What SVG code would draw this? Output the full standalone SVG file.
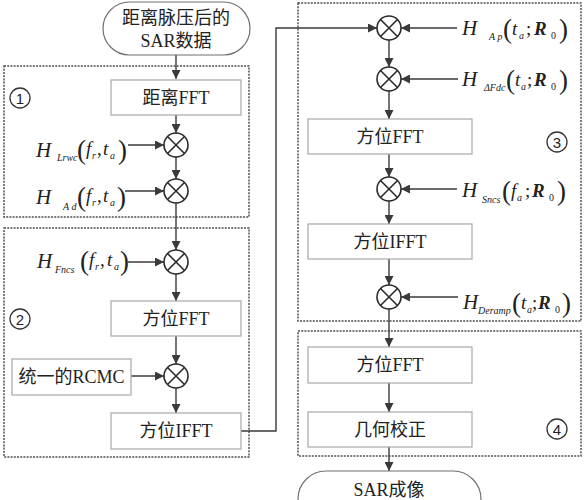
<svg xmlns="http://www.w3.org/2000/svg" width="585" height="500" viewBox="0 0 585 500">
<defs>
<marker id="ah" viewBox="0 0 10 10" refX="10" refY="5" markerWidth="9" markerHeight="9" markerUnits="userSpaceOnUse" orient="auto">
<path d="M0,0 L10,5 L0,10 z" fill="#3a3a3a"/>
</marker>
<g id="mul">
<circle cx="0" cy="0" r="12" fill="#fff" stroke="#2a2a2a" stroke-width="1.6"/>
<path d="M-8.5,-8.5 L8.5,8.5 M-8.5,8.5 L8.5,-8.5" stroke="#2a2a2a" stroke-width="1.6"/>
</g>
</defs>
<style>
.grp{fill:none;stroke:#505050;stroke-width:1.5;stroke-dasharray:2,1.2}
.box{fill:#fff;stroke:#a8a8a8;stroke-width:1.2}
.term{fill:#fff;stroke:#707070;stroke-width:1.2}
.lbl{font-family:"Liberation Serif","Noto Sans CJK SC",serif;font-size:18px;fill:#222;text-anchor:middle}
.num{font-family:"Liberation Sans","DejaVu Sans",sans-serif;font-size:15px;fill:#222;text-anchor:middle}
.ring{fill:#fff;stroke:#333;stroke-width:1.3}
.f{font-family:"Liberation Serif","DejaVu Serif",serif;fill:#222;font-style:italic}
.H{font-size:21px}
.s{font-size:10px}
.p{font-size:27px;font-style:normal;font-weight:300}
.v{font-size:19px}
.b{font-size:19px;font-weight:bold}
.c{fill:none;stroke:#3a3a3a;stroke-width:1.4}
</style>
<g id="groups">
<rect class="grp" x="4" y="66" width="245" height="151"/>
<rect class="grp" x="4" y="228" width="245" height="229"/>
<rect class="grp" x="298" y="3" width="283" height="318"/>
<rect class="grp" x="298" y="331" width="283" height="125"/>
</g>
<g id="connectors">
<path class="c" d="M176,55 V79" marker-end="url(#ah)"/>
<path class="c" d="M176,115 V133" marker-end="url(#ah)"/>
<path class="c" d="M176,157 V179" marker-end="url(#ah)"/>
<path class="c" d="M176,203 V250" marker-end="url(#ah)"/>
<path class="c" d="M176,274 V301" marker-end="url(#ah)"/>
<path class="c" d="M176,336 V364" marker-end="url(#ah)"/>
<path class="c" d="M176,388 V413" marker-end="url(#ah)"/>
<path class="c" d="M128,145 H164" marker-end="url(#ah)"/>
<path class="c" d="M125,191 H164" marker-end="url(#ah)"/>
<path class="c" d="M128,262 H164" marker-end="url(#ah)"/>
<path class="c" d="M131,376 H164" marker-end="url(#ah)"/>
<path class="c" d="M241,431 H276 V28 H377" marker-end="url(#ah)"/>
<path class="c" d="M457,28 H401" marker-end="url(#ah)"/>
<path class="c" d="M458,79 H401" marker-end="url(#ah)"/>
<path class="c" d="M457,189 H401" marker-end="url(#ah)"/>
<path class="c" d="M458,297 H401" marker-end="url(#ah)"/>
<path class="c" d="M389,40 V67" marker-end="url(#ah)"/>
<path class="c" d="M389,91 V119" marker-end="url(#ah)"/>
<path class="c" d="M389,154 V177" marker-end="url(#ah)"/>
<path class="c" d="M389,201 V224" marker-end="url(#ah)"/>
<path class="c" d="M389,259 V285" marker-end="url(#ah)"/>
<path class="c" d="M389,309 V347" marker-end="url(#ah)"/>
<path class="c" d="M389,383 V412" marker-end="url(#ah)"/>
<path class="c" d="M389,447 V471" marker-end="url(#ah)"/>
</g>
<g id="start">
<rect class="term" x="103" y="2" width="147" height="53" rx="26.5"/>
<text class="lbl" x="176" y="24">距离脉压后的</text>
<text class="lbl" x="176" y="47">SAR数据</text>
</g>
<g id="n1"><circle class="ring" cx="20" cy="98" r="10"/><text class="num" x="20" y="103.5">1</text></g>
<g id="n2"><circle class="ring" cx="20" cy="319" r="10"/><text class="num" x="20" y="324.5">2</text></g>
<g id="n3"><circle class="ring" cx="557" cy="142" r="10"/><text class="num" x="557" y="147.5">3</text></g>
<g id="n4"><circle class="ring" cx="557" cy="429" r="10"/><text class="num" x="557" y="434.5">4</text></g>
<g id="rfft"><rect class="box" x="111" y="80" width="130" height="35"/><text class="lbl" x="176" y="104">距离FFT</text></g>
<g id="m1"><use href="#mul" x="176" y="145"/></g>
<g id="m2"><use href="#mul" x="176" y="191"/></g>
<g id="m3"><use href="#mul" x="176" y="262"/></g>
<g id="afft1"><rect class="box" x="111" y="301" width="130" height="35"/><text class="lbl" x="176" y="325">方位FFT</text></g>
<g id="m4"><use href="#mul" x="176" y="376"/></g>
<g id="rcmc"><rect class="box" x="12" y="359" width="119" height="36"/><text class="lbl" x="71.5" y="383">统一的RCMC</text></g>
<g id="aifft1"><rect class="box" x="111" y="413" width="130" height="36"/><text class="lbl" x="176" y="437">方位IFFT</text></g>
<g id="lab-lrwc">
<text class="f"><tspan class="H" x="36" y="157">H</tspan><tspan class="s" x="57" y="161">Lrwc</tspan><tspan class="p" x="77" y="159">(</tspan><tspan class="v" x="86" y="155">f</tspan><tspan class="s" x="92" y="159">r</tspan><tspan class="v" x="97" y="155" font-style="normal">,</tspan><tspan class="v" x="103" y="155">t</tspan><tspan class="s" x="110" y="159">a</tspan><tspan class="p" x="118" y="159">)</tspan></text>
</g>
<g id="lab-ad">
<text class="f"><tspan class="H" x="36" y="204">H</tspan><tspan class="s" x="63" y="210">A d</tspan><tspan class="p" x="77" y="206">(</tspan><tspan class="v" x="86" y="202">f</tspan><tspan class="s" x="92" y="206">r</tspan><tspan class="v" x="97" y="202" font-style="normal">,</tspan><tspan class="v" x="103" y="202">t</tspan><tspan class="s" x="110" y="206">a</tspan><tspan class="p" x="117" y="206">)</tspan></text>
</g>
<g id="lab-fncs">
<text class="f"><tspan class="H" x="37" y="268">H</tspan><tspan class="s" x="55" y="273">Fncs</tspan><tspan class="p" x="80" y="270">(</tspan><tspan class="v" x="89" y="266">f</tspan><tspan class="s" x="95" y="270">r</tspan><tspan class="v" x="100" y="266" font-style="normal">,</tspan><tspan class="v" x="107" y="266">t</tspan><tspan class="s" x="114" y="270">a</tspan><tspan class="p" x="120" y="270">)</tspan></text>
</g>
<g id="m5"><use href="#mul" x="389" y="28"/></g>
<g id="lab-ap">
<text class="f"><tspan class="H" x="462" y="35">H</tspan><tspan class="s" x="489" y="40">A p</tspan><tspan class="p" x="503" y="38">(</tspan><tspan class="v" x="512" y="35">t</tspan><tspan class="s" x="519" y="39">a</tspan><tspan class="v" x="526" y="35" font-style="normal">;</tspan><tspan class="b" x="534" y="35">R</tspan><tspan class="s" x="551" y="39" font-style="normal">0</tspan><tspan class="p" x="559" y="38">)</tspan></text>
</g>
<g id="m6"><use href="#mul" x="389" y="79"/></g>
<g id="lab-fdc">
<text class="f"><tspan class="H" x="462" y="86">H</tspan><tspan class="s" x="484" y="91">ΔFdc</tspan><tspan class="p" x="506" y="89">(</tspan><tspan class="v" x="515" y="86">t</tspan><tspan class="s" x="521" y="90">a</tspan><tspan class="v" x="527" y="86" font-style="normal">;</tspan><tspan class="b" x="534" y="86">R</tspan><tspan class="s" x="551" y="90" font-style="normal">0</tspan><tspan class="p" x="559" y="89">)</tspan></text>
</g>
<g id="afft2"><rect class="box" x="308" y="119" width="164" height="35"/><text class="lbl" x="390" y="143">方位FFT</text></g>
<g id="m7"><use href="#mul" x="389" y="189"/></g>
<g id="lab-sncs">
<text class="f"><tspan class="H" x="462" y="197">H</tspan><tspan class="s" x="482" y="203">Sncs</tspan><tspan class="p" x="502" y="200">(</tspan><tspan class="v" x="511" y="197">f</tspan><tspan class="s" x="517" y="201">a</tspan><tspan class="v" x="525" y="197" font-style="normal">;</tspan><tspan class="b" x="532" y="197">R</tspan><tspan class="s" x="549" y="201" font-style="normal">0</tspan><tspan class="p" x="557" y="200">)</tspan></text>
</g>
<g id="aifft2"><rect class="box" x="308" y="224" width="164" height="35"/><text class="lbl" x="390" y="248">方位IFFT</text></g>
<g id="m8"><use href="#mul" x="389" y="297"/></g>
<g id="lab-deramp">
<text class="f"><tspan class="H" x="463" y="309">H</tspan><tspan class="s" x="478" y="314">Deramp</tspan><tspan class="p" x="512" y="312">(</tspan><tspan class="v" x="521" y="309">t</tspan><tspan class="s" x="527" y="313">a</tspan><tspan class="v" x="532" y="309" font-style="normal">;</tspan><tspan class="b" x="538" y="309">R</tspan><tspan class="s" x="555" y="313" font-style="normal">0</tspan><tspan class="p" x="562" y="312">)</tspan></text>
</g>
<g id="afft3"><rect class="box" x="308" y="347" width="164" height="36"/><text class="lbl" x="390" y="371">方位FFT</text></g>
<g id="geo"><rect class="box" x="308" y="412" width="164" height="35"/><text class="lbl" x="390" y="436">几何校正</text></g>
<g id="end">
<rect class="term" x="298" y="471" width="183" height="56" rx="28"/>
<text class="lbl" x="389" y="496">SAR成像</text>
</g>
</svg>
